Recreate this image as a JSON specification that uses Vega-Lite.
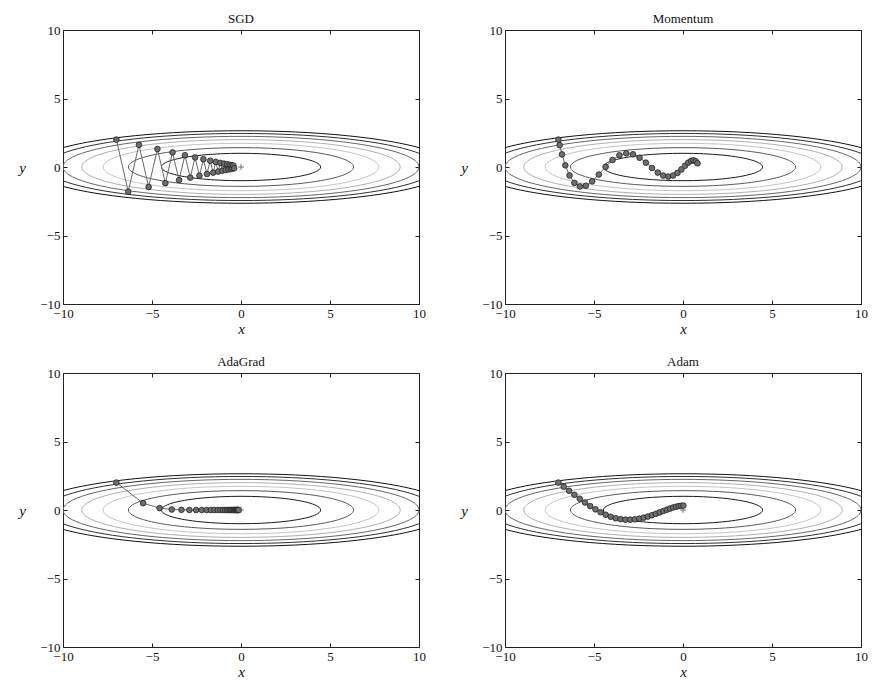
{
  "$schema": "https://vega.github.io/schema/vega-lite/v6.json",
  "padding": {"left": 18, "top": 13, "right": 5, "bottom": 5},
  "background": "white",
  "bounds": "flush",
  "columns": 2,
  "spacing": {"row": 69, "column": 86},
  "datasets": {
    "contours": [
      {"c":1,"i":0,"x":4.472,"y":0},{"c":1,"i":1,"x":4.320,"y":0.259},{"c":1,"i":2,"x":3.873,"y":0.5},{"c":1,"i":3,"x":3.162,"y":0.707},{"c":1,"i":4,"x":2.236,"y":0.866},{"c":1,"i":5,"x":1.157,"y":0.966},{"c":1,"i":6,"x":0,"y":1},{"c":1,"i":7,"x":-1.157,"y":0.966},{"c":1,"i":8,"x":-2.236,"y":0.866},{"c":1,"i":9,"x":-3.162,"y":0.707},{"c":1,"i":10,"x":-3.873,"y":0.5},{"c":1,"i":11,"x":-4.320,"y":0.259},{"c":1,"i":12,"x":-4.472,"y":0},{"c":1,"i":13,"x":-4.320,"y":-0.259},{"c":1,"i":14,"x":-3.873,"y":-0.5},{"c":1,"i":15,"x":-3.162,"y":-0.707},{"c":1,"i":16,"x":-2.236,"y":-0.866},{"c":1,"i":17,"x":-1.157,"y":-0.966},{"c":1,"i":18,"x":0,"y":-1},{"c":1,"i":19,"x":1.157,"y":-0.966},{"c":1,"i":20,"x":2.236,"y":-0.866},{"c":1,"i":21,"x":3.162,"y":-0.707},{"c":1,"i":22,"x":3.873,"y":-0.5},{"c":1,"i":23,"x":4.320,"y":-0.259},
      {"c":2,"i":0,"x":6.325,"y":0},{"c":2,"i":1,"x":6.109,"y":0.366},{"c":2,"i":2,"x":5.477,"y":0.707},{"c":2,"i":3,"x":4.472,"y":1.0},{"c":2,"i":4,"x":3.162,"y":1.225},{"c":2,"i":5,"x":1.637,"y":1.366},{"c":2,"i":6,"x":0,"y":1.414},{"c":2,"i":7,"x":-1.637,"y":1.366},{"c":2,"i":8,"x":-3.162,"y":1.225},{"c":2,"i":9,"x":-4.472,"y":1.0},{"c":2,"i":10,"x":-5.477,"y":0.707},{"c":2,"i":11,"x":-6.109,"y":0.366},{"c":2,"i":12,"x":-6.325,"y":0},{"c":2,"i":13,"x":-6.109,"y":-0.366},{"c":2,"i":14,"x":-5.477,"y":-0.707},{"c":2,"i":15,"x":-4.472,"y":-1.0},{"c":2,"i":16,"x":-3.162,"y":-1.225},{"c":2,"i":17,"x":-1.637,"y":-1.366},{"c":2,"i":18,"x":0,"y":-1.414},{"c":2,"i":19,"x":1.637,"y":-1.366},{"c":2,"i":20,"x":3.162,"y":-1.225},{"c":2,"i":21,"x":4.472,"y":-1.0},{"c":2,"i":22,"x":5.477,"y":-0.707},{"c":2,"i":23,"x":6.109,"y":-0.366},
      {"c":3,"i":0,"x":7.746,"y":0},{"c":3,"i":1,"x":7.482,"y":0.448},{"c":3,"i":2,"x":6.708,"y":0.866},{"c":3,"i":3,"x":5.477,"y":1.225},{"c":3,"i":4,"x":3.873,"y":1.5},{"c":3,"i":5,"x":2.005,"y":1.673},{"c":3,"i":6,"x":0,"y":1.732},{"c":3,"i":7,"x":-2.005,"y":1.673},{"c":3,"i":8,"x":-3.873,"y":1.5},{"c":3,"i":9,"x":-5.477,"y":1.225},{"c":3,"i":10,"x":-6.708,"y":0.866},{"c":3,"i":11,"x":-7.482,"y":0.448},{"c":3,"i":12,"x":-7.746,"y":0},{"c":3,"i":13,"x":-7.482,"y":-0.448},{"c":3,"i":14,"x":-6.708,"y":-0.866},{"c":3,"i":15,"x":-5.477,"y":-1.225},{"c":3,"i":16,"x":-3.873,"y":-1.5},{"c":3,"i":17,"x":-2.005,"y":-1.673},{"c":3,"i":18,"x":0,"y":-1.732},{"c":3,"i":19,"x":2.005,"y":-1.673},{"c":3,"i":20,"x":3.873,"y":-1.5},{"c":3,"i":21,"x":5.477,"y":-1.225},{"c":3,"i":22,"x":6.708,"y":-0.866},{"c":3,"i":23,"x":7.482,"y":-0.448},
      {"c":4,"i":0,"x":8.944,"y":0},{"c":4,"i":1,"x":8.640,"y":0.518},{"c":4,"i":2,"x":7.746,"y":1.0},{"c":4,"i":3,"x":6.325,"y":1.414},{"c":4,"i":4,"x":4.472,"y":1.732},{"c":4,"i":5,"x":2.315,"y":1.932},{"c":4,"i":6,"x":0,"y":2.0},{"c":4,"i":7,"x":-2.315,"y":1.932},{"c":4,"i":8,"x":-4.472,"y":1.732},{"c":4,"i":9,"x":-6.325,"y":1.414},{"c":4,"i":10,"x":-7.746,"y":1.0},{"c":4,"i":11,"x":-8.640,"y":0.518},{"c":4,"i":12,"x":-8.944,"y":0},{"c":4,"i":13,"x":-8.640,"y":-0.518},{"c":4,"i":14,"x":-7.746,"y":-1.0},{"c":4,"i":15,"x":-6.325,"y":-1.414},{"c":4,"i":16,"x":-4.472,"y":-1.732},{"c":4,"i":17,"x":-2.315,"y":-1.932},{"c":4,"i":18,"x":0,"y":-2.0},{"c":4,"i":19,"x":2.315,"y":-1.932},{"c":4,"i":20,"x":4.472,"y":-1.732},{"c":4,"i":21,"x":6.325,"y":-1.414},{"c":4,"i":22,"x":7.746,"y":-1.0},{"c":4,"i":23,"x":8.640,"y":-0.518},
      {"c":5,"i":0,"x":10,"y":0},{"c":5,"i":1,"x":9.659,"y":0.579},{"c":5,"i":2,"x":8.660,"y":1.118},{"c":5,"i":3,"x":7.071,"y":1.581},{"c":5,"i":4,"x":5.0,"y":1.936},{"c":5,"i":5,"x":2.588,"y":2.160},{"c":5,"i":6,"x":0,"y":2.236},{"c":5,"i":7,"x":-2.588,"y":2.160},{"c":5,"i":8,"x":-5.0,"y":1.936},{"c":5,"i":9,"x":-7.071,"y":1.581},{"c":5,"i":10,"x":-8.660,"y":1.118},{"c":5,"i":11,"x":-9.659,"y":0.579},{"c":5,"i":12,"x":-10,"y":0},{"c":5,"i":13,"x":-9.659,"y":-0.579},{"c":5,"i":14,"x":-8.660,"y":-1.118},{"c":5,"i":15,"x":-7.071,"y":-1.581},{"c":5,"i":16,"x":-5.0,"y":-1.936},{"c":5,"i":17,"x":-2.588,"y":-2.160},{"c":5,"i":18,"x":0,"y":-2.236},{"c":5,"i":19,"x":2.588,"y":-2.160},{"c":5,"i":20,"x":5.0,"y":-1.936},{"c":5,"i":21,"x":7.071,"y":-1.581},{"c":5,"i":22,"x":8.660,"y":-1.118},{"c":5,"i":23,"x":9.659,"y":-0.579},
      {"c":6,"i":0,"x":10.954,"y":0},{"c":6,"i":1,"x":10.581,"y":0.634},{"c":6,"i":2,"x":9.487,"y":1.225},{"c":6,"i":3,"x":7.746,"y":1.732},{"c":6,"i":4,"x":5.477,"y":2.121},{"c":6,"i":5,"x":2.835,"y":2.366},{"c":6,"i":6,"x":0,"y":2.449},{"c":6,"i":7,"x":-2.835,"y":2.366},{"c":6,"i":8,"x":-5.477,"y":2.121},{"c":6,"i":9,"x":-7.746,"y":1.732},{"c":6,"i":10,"x":-9.487,"y":1.225},{"c":6,"i":11,"x":-10.581,"y":0.634},{"c":6,"i":12,"x":-10.954,"y":0},{"c":6,"i":13,"x":-10.581,"y":-0.634},{"c":6,"i":14,"x":-9.487,"y":-1.225},{"c":6,"i":15,"x":-7.746,"y":-1.732},{"c":6,"i":16,"x":-5.477,"y":-2.121},{"c":6,"i":17,"x":-2.835,"y":-2.366},{"c":6,"i":18,"x":0,"y":-2.449},{"c":6,"i":19,"x":2.835,"y":-2.366},{"c":6,"i":20,"x":5.477,"y":-2.121},{"c":6,"i":21,"x":7.746,"y":-1.732},{"c":6,"i":22,"x":9.487,"y":-1.225},{"c":6,"i":23,"x":10.581,"y":-0.634},
      {"c":7,"i":0,"x":11.832,"y":0},{"c":7,"i":1,"x":11.429,"y":0.685},{"c":7,"i":2,"x":10.247,"y":1.323},{"c":7,"i":3,"x":8.367,"y":1.871},{"c":7,"i":4,"x":5.916,"y":2.291},{"c":7,"i":5,"x":3.062,"y":2.556},{"c":7,"i":6,"x":0,"y":2.646},{"c":7,"i":7,"x":-3.062,"y":2.556},{"c":7,"i":8,"x":-5.916,"y":2.291},{"c":7,"i":9,"x":-8.367,"y":1.871},{"c":7,"i":10,"x":-10.247,"y":1.323},{"c":7,"i":11,"x":-11.429,"y":0.685},{"c":7,"i":12,"x":-11.832,"y":0},{"c":7,"i":13,"x":-11.429,"y":-0.685},{"c":7,"i":14,"x":-10.247,"y":-1.323},{"c":7,"i":15,"x":-8.367,"y":-1.871},{"c":7,"i":16,"x":-5.916,"y":-2.291},{"c":7,"i":17,"x":-3.062,"y":-2.556},{"c":7,"i":18,"x":0,"y":-2.646},{"c":7,"i":19,"x":3.062,"y":-2.556},{"c":7,"i":20,"x":5.916,"y":-2.291},{"c":7,"i":21,"x":8.367,"y":-1.871},{"c":7,"i":22,"x":10.247,"y":-1.323},{"c":7,"i":23,"x":11.429,"y":-0.685}
    ],
    "paths": [
      {"m":"SGD","k":0,"x":-7,"y":2},{"m":"SGD","k":1,"x":-6.335,"y":-1.8},{"m":"SGD","k":2,"x":-5.733,"y":1.62},{"m":"SGD","k":3,"x":-5.189,"y":-1.458},{"m":"SGD","k":4,"x":-4.696,"y":1.312},{"m":"SGD","k":5,"x":-4.25,"y":-1.181},{"m":"SGD","k":6,"x":-3.846,"y":1.063},{"m":"SGD","k":7,"x":-3.48,"y":-0.957},{"m":"SGD","k":8,"x":-3.15,"y":0.861},{"m":"SGD","k":9,"x":-2.851,"y":-0.775},{"m":"SGD","k":10,"x":-2.58,"y":0.697},{"m":"SGD","k":11,"x":-2.335,"y":-0.628},{"m":"SGD","k":12,"x":-2.113,"y":0.565},{"m":"SGD","k":13,"x":-1.912,"y":-0.508},{"m":"SGD","k":14,"x":-1.731,"y":0.458},{"m":"SGD","k":15,"x":-1.566,"y":-0.412},{"m":"SGD","k":16,"x":-1.417,"y":0.371},{"m":"SGD","k":17,"x":-1.283,"y":-0.334},{"m":"SGD","k":18,"x":-1.161,"y":0.3},{"m":"SGD","k":19,"x":-1.051,"y":-0.27},{"m":"SGD","k":20,"x":-0.951,"y":0.243},{"m":"SGD","k":21,"x":-0.86,"y":-0.219},{"m":"SGD","k":22,"x":-0.779,"y":0.197},{"m":"SGD","k":23,"x":-0.705,"y":-0.177},{"m":"SGD","k":24,"x":-0.638,"y":0.16},{"m":"SGD","k":25,"x":-0.577,"y":-0.144},{"m":"SGD","k":26,"x":-0.522,"y":0.129},{"m":"SGD","k":27,"x":-0.473,"y":-0.116},{"m":"SGD","k":28,"x":-0.428,"y":0.105},{"m":"SGD","k":29,"x":-0.387,"y":-0.094},
      {"m":"Momentum","k":0,"x":-7,"y":2},{"m":"Momentum","k":1,"x":-6.93,"y":1.6},{"m":"Momentum","k":2,"x":-6.798,"y":0.92},{"m":"Momentum","k":3,"x":-6.611,"y":0.124},{"m":"Momentum","k":4,"x":-6.376,"y":-0.617},{"m":"Momentum","k":5,"x":-6.101,"y":-1.161},{"m":"Momentum","k":6,"x":-5.793,"y":-1.418},{"m":"Momentum","k":7,"x":-5.458,"y":-1.366},{"m":"Momentum","k":8,"x":-5.101,"y":-1.046},{"m":"Momentum","k":9,"x":-4.729,"y":-0.548},{"m":"Momentum","k":10,"x":-4.348,"y":0.009},{"m":"Momentum","k":11,"x":-3.96,"y":0.509},{"m":"Momentum","k":12,"x":-3.572,"y":0.857},{"m":"Momentum","k":13,"x":-3.187,"y":0.998},{"m":"Momentum","k":14,"x":-2.809,"y":0.927},{"m":"Momentum","k":15,"x":-2.44,"y":0.676},{"m":"Momentum","k":16,"x":-2.084,"y":0.316},{"m":"Momentum","k":17,"x":-1.743,"y":-0.071},{"m":"Momentum","k":18,"x":-1.418,"y":-0.406},{"m":"Momentum","k":19,"x":-1.112,"y":-0.626},{"m":"Momentum","k":20,"x":-0.825,"y":-0.699},{"m":"Momentum","k":21,"x":-0.558,"y":-0.624},{"m":"Momentum","k":22,"x":-0.313,"y":-0.433},{"m":"Momentum","k":23,"x":-0.089,"y":-0.174},{"m":"Momentum","k":24,"x":0.113,"y":0.094},{"m":"Momentum","k":25,"x":0.295,"y":0.316},{"m":"Momentum","k":26,"x":0.455,"y":0.453},{"m":"Momentum","k":27,"x":0.594,"y":0.486},{"m":"Momentum","k":28,"x":0.714,"y":0.418},{"m":"Momentum","k":29,"x":0.814,"y":0.273},
      {"m":"AdaGrad","k":0,"x":-7,"y":2},{"m":"AdaGrad","k":1,"x":-5.5,"y":0.5},{"m":"AdaGrad","k":2,"x":-4.573,"y":0.136},{"m":"AdaGrad","k":3,"x":-3.888,"y":0.037},{"m":"AdaGrad","k":4,"x":-3.345,"y":0.01},{"m":"AdaGrad","k":5,"x":-2.899,"y":0.003},{"m":"AdaGrad","k":6,"x":-2.524,"y":0.001},{"m":"AdaGrad","k":7,"x":-2.206,"y":0},{"m":"AdaGrad","k":8,"x":-1.932,"y":0},{"m":"AdaGrad","k":9,"x":-1.695,"y":0},{"m":"AdaGrad","k":10,"x":-1.489,"y":0},{"m":"AdaGrad","k":11,"x":-1.31,"y":0},{"m":"AdaGrad","k":12,"x":-1.153,"y":0},{"m":"AdaGrad","k":13,"x":-1.015,"y":0},{"m":"AdaGrad","k":14,"x":-0.895,"y":0},{"m":"AdaGrad","k":15,"x":-0.788,"y":0},{"m":"AdaGrad","k":16,"x":-0.695,"y":0},{"m":"AdaGrad","k":17,"x":-0.613,"y":0},{"m":"AdaGrad","k":18,"x":-0.54,"y":0},{"m":"AdaGrad","k":19,"x":-0.477,"y":0},{"m":"AdaGrad","k":20,"x":-0.42,"y":0},{"m":"AdaGrad","k":21,"x":-0.371,"y":0},{"m":"AdaGrad","k":22,"x":-0.327,"y":0},{"m":"AdaGrad","k":23,"x":-0.289,"y":0},{"m":"AdaGrad","k":24,"x":-0.255,"y":0},{"m":"AdaGrad","k":25,"x":-0.225,"y":0},{"m":"AdaGrad","k":26,"x":-0.198,"y":0},{"m":"AdaGrad","k":27,"x":-0.175,"y":0},{"m":"AdaGrad","k":28,"x":-0.154,"y":0},{"m":"AdaGrad","k":29,"x":-0.136,"y":0},
      {"m":"Adam","k":0,"x":-7,"y":2},{"m":"Adam","k":1,"x":-6.7,"y":1.7},{"m":"Adam","k":2,"x":-6.4,"y":1.402},{"m":"Adam","k":3,"x":-6.102,"y":1.109},{"m":"Adam","k":4,"x":-5.804,"y":0.823},{"m":"Adam","k":5,"x":-5.507,"y":0.548},{"m":"Adam","k":6,"x":-5.213,"y":0.288},{"m":"Adam","k":7,"x":-4.92,"y":0.049},{"m":"Adam","k":8,"x":-4.63,"y":-0.164},{"m":"Adam","k":9,"x":-4.343,"y":-0.346},{"m":"Adam","k":10,"x":-4.059,"y":-0.492},{"m":"Adam","k":11,"x":-3.78,"y":-0.6},{"m":"Adam","k":12,"x":-3.504,"y":-0.671},{"m":"Adam","k":13,"x":-3.234,"y":-0.706},{"m":"Adam","k":14,"x":-2.969,"y":-0.708},{"m":"Adam","k":15,"x":-2.71,"y":-0.682},{"m":"Adam","k":16,"x":-2.457,"y":-0.631},{"m":"Adam","k":17,"x":-2.211,"y":-0.561},{"m":"Adam","k":18,"x":-1.973,"y":-0.476},{"m":"Adam","k":19,"x":-1.743,"y":-0.38},{"m":"Adam","k":20,"x":-1.521,"y":-0.279},{"m":"Adam","k":21,"x":-1.309,"y":-0.176},{"m":"Adam","k":22,"x":-1.106,"y":-0.075},{"m":"Adam","k":23,"x":-0.913,"y":0.021},{"m":"Adam","k":24,"x":-0.73,"y":0.106},{"m":"Adam","k":25,"x":-0.558,"y":0.18},{"m":"Adam","k":26,"x":-0.396,"y":0.239},{"m":"Adam","k":27,"x":-0.246,"y":0.283},{"m":"Adam","k":28,"x":-0.107,"y":0.31},{"m":"Adam","k":29,"x":0.02,"y":0.322}
    ],
    "origin": [{"x":0,"y":0}]
  },
  "concat": [
    {
      "title": {"text": "SGD"},
      "width": 356, "height": 274,
      "layer": [
        {"data": {"name": "contours"}, "mark": {"type": "line", "interpolate": "cardinal-closed", "clip": true},
         "encoding": {
           "x": {"field": "x", "type": "quantitative", "scale": {"domain": [-10, 10], "nice": false, "zero": false}, "axis": {"orient": "bottom", "title": "x", "values": [-10, -5, 0, 5, 10], "titleX": 178, "titleY": 24, "titleBaseline": "middle"}},
           "y": {"field": "y", "type": "quantitative", "scale": {"domain": [-10, 10], "nice": false, "zero": false}, "axis": {"orient": "left", "title": "y", "values": [-10, -5, 0, 5, 10], "titleAngle": 0, "titleX": -41, "titleY": 137, "titleAlign": "center", "titleBaseline": "middle"}},
           "order": {"field": "i", "type": "quantitative"},
           "color": {"field": "c", "type": "nominal", "scale": {"domain": [1,2,3,4,5,6,7], "range": ["#1a1a1a", "#5a5a5a", "#c4c4c4", "#b0b0b0", "#666666", "#2e2e2e", "#111111"]}, "legend": null},
           "strokeWidth": {"field": "c", "type": "nominal", "scale": {"domain": [1,2,3,4,5,6,7], "range": [1, 1, 1, 1, 1, 1.2, 1.5]}, "legend": null}
         }},
        {"data": {"name": "paths"}, "transform": [{"filter": "datum.m === 'SGD'"}], "mark": {"type": "line", "color": "#6a6a6a", "strokeWidth": 1},
         "encoding": {"x": {"field": "x", "type": "quantitative", "axis": null}, "y": {"field": "y", "type": "quantitative", "axis": null}, "order": {"field": "k", "type": "quantitative"}}},
        {"data": {"name": "paths"}, "transform": [{"filter": "datum.m === 'SGD'"}], "mark": {"type": "point", "filled": true, "fill": "#6e6e6e", "stroke": "#222222", "strokeWidth": 0.8, "size": 32, "opacity": 1},
         "encoding": {"x": {"field": "x", "type": "quantitative", "axis": null}, "y": {"field": "y", "type": "quantitative", "axis": null}}},
        {"data": {"name": "origin"}, "mark": {"type": "point", "shape": "M-1,0H1M0,-1V1", "filled": false, "stroke": "#666666", "strokeWidth": 1, "size": 30, "opacity": 1},
         "encoding": {"x": {"field": "x", "type": "quantitative", "axis": {"orient": "top", "labels": false, "title": null, "values": [-10, -5, 0, 5, 10]}}, "y": {"field": "y", "type": "quantitative", "axis": {"orient": "right", "labels": false, "title": null, "values": [-10, -5, 0, 5, 10]}}}}
      ],
      "resolve": {"axis": {"x": "independent", "y": "independent"}}
    },
    {
      "title": {"text": "Momentum"},
      "width": 356, "height": 274,
      "layer": [
        {"data": {"name": "contours"}, "mark": {"type": "line", "interpolate": "cardinal-closed", "clip": true},
         "encoding": {
           "x": {"field": "x", "type": "quantitative", "scale": {"domain": [-10, 10], "nice": false, "zero": false}, "axis": {"orient": "bottom", "title": "x", "values": [-10, -5, 0, 5, 10], "titleX": 178, "titleY": 24, "titleBaseline": "middle"}},
           "y": {"field": "y", "type": "quantitative", "scale": {"domain": [-10, 10], "nice": false, "zero": false}, "axis": {"orient": "left", "title": "y", "values": [-10, -5, 0, 5, 10], "titleAngle": 0, "titleX": -41, "titleY": 137, "titleAlign": "center", "titleBaseline": "middle"}},
           "order": {"field": "i", "type": "quantitative"},
           "color": {"field": "c", "type": "nominal", "scale": {"domain": [1,2,3,4,5,6,7], "range": ["#1a1a1a", "#5a5a5a", "#c4c4c4", "#b0b0b0", "#666666", "#2e2e2e", "#111111"]}, "legend": null},
           "strokeWidth": {"field": "c", "type": "nominal", "scale": {"domain": [1,2,3,4,5,6,7], "range": [1, 1, 1, 1, 1, 1.2, 1.5]}, "legend": null}
         }},
        {"data": {"name": "paths"}, "transform": [{"filter": "datum.m === 'Momentum'"}], "mark": {"type": "line", "color": "#6a6a6a", "strokeWidth": 1},
         "encoding": {"x": {"field": "x", "type": "quantitative", "axis": null}, "y": {"field": "y", "type": "quantitative", "axis": null}, "order": {"field": "k", "type": "quantitative"}}},
        {"data": {"name": "paths"}, "transform": [{"filter": "datum.m === 'Momentum'"}], "mark": {"type": "point", "filled": true, "fill": "#6e6e6e", "stroke": "#222222", "strokeWidth": 0.8, "size": 32, "opacity": 1},
         "encoding": {"x": {"field": "x", "type": "quantitative", "axis": null}, "y": {"field": "y", "type": "quantitative", "axis": null}}},
        {"data": {"name": "origin"}, "mark": {"type": "point", "shape": "M-1,0H1M0,-1V1", "filled": false, "stroke": "#666666", "strokeWidth": 1, "size": 30, "opacity": 1},
         "encoding": {"x": {"field": "x", "type": "quantitative", "axis": {"orient": "top", "labels": false, "title": null, "values": [-10, -5, 0, 5, 10]}}, "y": {"field": "y", "type": "quantitative", "axis": {"orient": "right", "labels": false, "title": null, "values": [-10, -5, 0, 5, 10]}}}}
      ],
      "resolve": {"axis": {"x": "independent", "y": "independent"}}
    },
    {
      "title": {"text": "AdaGrad"},
      "width": 356, "height": 274,
      "layer": [
        {"data": {"name": "contours"}, "mark": {"type": "line", "interpolate": "cardinal-closed", "clip": true},
         "encoding": {
           "x": {"field": "x", "type": "quantitative", "scale": {"domain": [-10, 10], "nice": false, "zero": false}, "axis": {"orient": "bottom", "title": "x", "values": [-10, -5, 0, 5, 10], "titleX": 178, "titleY": 24, "titleBaseline": "middle"}},
           "y": {"field": "y", "type": "quantitative", "scale": {"domain": [-10, 10], "nice": false, "zero": false}, "axis": {"orient": "left", "title": "y", "values": [-10, -5, 0, 5, 10], "titleAngle": 0, "titleX": -41, "titleY": 137, "titleAlign": "center", "titleBaseline": "middle"}},
           "order": {"field": "i", "type": "quantitative"},
           "color": {"field": "c", "type": "nominal", "scale": {"domain": [1,2,3,4,5,6,7], "range": ["#1a1a1a", "#5a5a5a", "#c4c4c4", "#b0b0b0", "#666666", "#2e2e2e", "#111111"]}, "legend": null},
           "strokeWidth": {"field": "c", "type": "nominal", "scale": {"domain": [1,2,3,4,5,6,7], "range": [1, 1, 1, 1, 1, 1.2, 1.5]}, "legend": null}
         }},
        {"data": {"name": "paths"}, "transform": [{"filter": "datum.m === 'AdaGrad'"}], "mark": {"type": "line", "color": "#6a6a6a", "strokeWidth": 1},
         "encoding": {"x": {"field": "x", "type": "quantitative", "axis": null}, "y": {"field": "y", "type": "quantitative", "axis": null}, "order": {"field": "k", "type": "quantitative"}}},
        {"data": {"name": "paths"}, "transform": [{"filter": "datum.m === 'AdaGrad'"}], "mark": {"type": "point", "filled": true, "fill": "#6e6e6e", "stroke": "#222222", "strokeWidth": 0.8, "size": 32, "opacity": 1},
         "encoding": {"x": {"field": "x", "type": "quantitative", "axis": null}, "y": {"field": "y", "type": "quantitative", "axis": null}}},
        {"data": {"name": "origin"}, "mark": {"type": "point", "shape": "M-1,0H1M0,-1V1", "filled": false, "stroke": "#666666", "strokeWidth": 1, "size": 30, "opacity": 1},
         "encoding": {"x": {"field": "x", "type": "quantitative", "axis": {"orient": "top", "labels": false, "title": null, "values": [-10, -5, 0, 5, 10]}}, "y": {"field": "y", "type": "quantitative", "axis": {"orient": "right", "labels": false, "title": null, "values": [-10, -5, 0, 5, 10]}}}}
      ],
      "resolve": {"axis": {"x": "independent", "y": "independent"}}
    },
    {
      "title": {"text": "Adam"},
      "width": 356, "height": 274,
      "layer": [
        {"data": {"name": "contours"}, "mark": {"type": "line", "interpolate": "cardinal-closed", "clip": true},
         "encoding": {
           "x": {"field": "x", "type": "quantitative", "scale": {"domain": [-10, 10], "nice": false, "zero": false}, "axis": {"orient": "bottom", "title": "x", "values": [-10, -5, 0, 5, 10], "titleX": 178, "titleY": 24, "titleBaseline": "middle"}},
           "y": {"field": "y", "type": "quantitative", "scale": {"domain": [-10, 10], "nice": false, "zero": false}, "axis": {"orient": "left", "title": "y", "values": [-10, -5, 0, 5, 10], "titleAngle": 0, "titleX": -41, "titleY": 137, "titleAlign": "center", "titleBaseline": "middle"}},
           "order": {"field": "i", "type": "quantitative"},
           "color": {"field": "c", "type": "nominal", "scale": {"domain": [1,2,3,4,5,6,7], "range": ["#1a1a1a", "#5a5a5a", "#c4c4c4", "#b0b0b0", "#666666", "#2e2e2e", "#111111"]}, "legend": null},
           "strokeWidth": {"field": "c", "type": "nominal", "scale": {"domain": [1,2,3,4,5,6,7], "range": [1, 1, 1, 1, 1, 1.2, 1.5]}, "legend": null}
         }},
        {"data": {"name": "paths"}, "transform": [{"filter": "datum.m === 'Adam'"}], "mark": {"type": "line", "color": "#6a6a6a", "strokeWidth": 1},
         "encoding": {"x": {"field": "x", "type": "quantitative", "axis": null}, "y": {"field": "y", "type": "quantitative", "axis": null}, "order": {"field": "k", "type": "quantitative"}}},
        {"data": {"name": "paths"}, "transform": [{"filter": "datum.m === 'Adam'"}], "mark": {"type": "point", "filled": true, "fill": "#6e6e6e", "stroke": "#222222", "strokeWidth": 0.8, "size": 32, "opacity": 1},
         "encoding": {"x": {"field": "x", "type": "quantitative", "axis": null}, "y": {"field": "y", "type": "quantitative", "axis": null}}},
        {"data": {"name": "origin"}, "mark": {"type": "point", "shape": "M-1,0H1M0,-1V1", "filled": false, "stroke": "#666666", "strokeWidth": 1, "size": 30, "opacity": 1},
         "encoding": {"x": {"field": "x", "type": "quantitative", "axis": {"orient": "top", "labels": false, "title": null, "values": [-10, -5, 0, 5, 10]}}, "y": {"field": "y", "type": "quantitative", "axis": {"orient": "right", "labels": false, "title": null, "values": [-10, -5, 0, 5, 10]}}}}
      ],
      "resolve": {"axis": {"x": "independent", "y": "independent"}}
    }
  ],
  "config": {
    "view": {"stroke": null},
    "axis": {
      "grid": false,
      "domainColor": "#222222", "domainWidth": 1,
      "tickColor": "#222222", "tickWidth": 1, "tickSize": -4,
      "labelFont": "Liberation Serif", "labelFontSize": 13, "labelColor": "#111111",
      "labelFlush": false, "labelOverlap": false, "labelPadding": 7,
      "titleFont": "Liberation Serif", "titleFontSize": 15, "titleFontStyle": "italic", "titleFontWeight": "normal", "titleColor": "#111111"
    },
    "title": {"font": "Liberation Serif", "fontSize": 13, "fontWeight": "normal", "color": "#111111", "offset": -2}
  }
}
